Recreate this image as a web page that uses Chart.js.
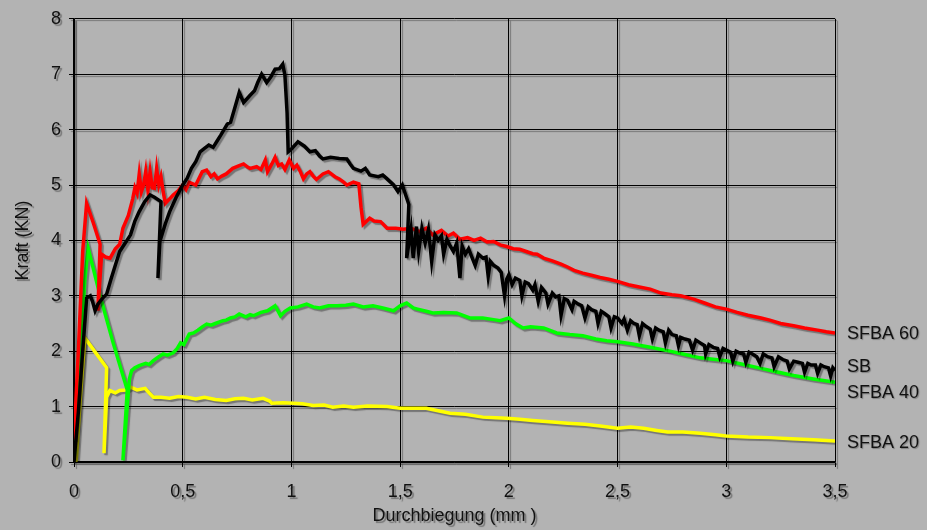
<!DOCTYPE html>
<html>
<head>
<meta charset="utf-8">
<script src="https://cdn.jsdelivr.net/npm/chart.js@4/dist/chart.umd.min.js"></script>
<style>
html, body { margin: 0; padding: 0; background: #b3b3b3; }
#wrap { width: 927px; height: 530px; }
</style>
</head>
<body>
<div id="wrap"><canvas id="chart" width="927" height="530"></canvas></div>
<script>
// Kraft (KN) over Durchbiegung (mm) as [x, y]
var sbPoints = [
    [0, 0], [0.02, 0.9], [0.04, 2.0], [0.058, 2.96], [0.075, 3.0], [0.085, 2.9], [0.097, 2.73], [0.11, 2.85],
    [0.13, 2.95], [0.15, 3.03], [0.17, 3.3], [0.19, 3.55], [0.21, 3.8], [0.235, 3.95], [0.26, 4.1], [0.28, 4.35],
    [0.30, 4.52], [0.325, 4.7], [0.35, 4.82], [0.37, 4.78], [0.40, 4.7], [0.386, 3.32], [0.395, 3.98], [0.42, 4.3],
    [0.44, 4.52], [0.47, 4.78], [0.50, 5.0], [0.52, 5.12], [0.54, 5.3], [0.56, 5.42], [0.58, 5.6], [0.60, 5.66],
    [0.62, 5.72], [0.64, 5.68], [0.656, 5.78], [0.675, 5.9], [0.69, 6.0], [0.705, 6.1], [0.72, 6.13], [0.74, 6.4],
    [0.76, 6.67], [0.78, 6.49], [0.81, 6.62], [0.83, 6.7], [0.845, 6.85], [0.863, 7.0], [0.886, 6.85],
    [0.905, 6.95], [0.925, 7.09], [0.945, 7.1], [0.96, 7.18], [0.97, 6.98], [0.98, 6.3], [0.985, 5.6],
    [1.0, 5.65], [1.03, 5.78], [1.06, 5.7], [1.085, 5.6], [1.11, 5.62], [1.13, 5.52], [1.145, 5.47], [1.18, 5.5],
    [1.22, 5.48], [1.255, 5.47], [1.27, 5.38], [1.285, 5.3], [1.32, 5.25], [1.34, 5.3], [1.36, 5.18],
    [1.40, 5.15], [1.42, 5.18], [1.44, 5.11], [1.47, 5.0], [1.49, 4.88], [1.51, 5.0], [1.54, 4.65], [1.53, 3.68],
    [1.55, 4.2], [1.56, 3.68], [1.575, 4.25], [1.585, 3.8], [1.6, 4.22], [1.615, 3.95], [1.63, 4.2], [1.645, 3.62],
    [1.66, 4.1], [1.675, 4.0], [1.69, 4.08], [1.70, 3.75], [1.715, 4.02], [1.73, 3.9], [1.745, 3.8], [1.76, 3.95],
    [1.775, 3.32], [1.785, 3.9], [1.8, 3.75], [1.815, 3.85], [1.83, 3.7], [1.845, 3.55], [1.86, 3.75], [1.88, 3.68],
    [1.895, 3.7], [1.905, 3.35], [1.915, 3.62], [1.93, 3.55], [1.95, 3.5], [1.965, 3.42], [1.98, 3.0], [1.99, 3.3],
    [2.0, 3.38], [2.015, 3.2], [2.03, 3.32], [2.05, 3.28], [2.06, 3.0], [2.075, 3.25], [2.09, 3.22], [2.11, 3.1],
    [2.12, 3.2], [2.135, 2.9], [2.15, 3.15], [2.17, 3.05], [2.18, 2.85], [2.2, 3.05], [2.215, 2.98], [2.23, 3.0],
    [2.24, 2.65], [2.255, 2.95], [2.27, 2.92], [2.29, 2.75], [2.3, 2.9], [2.32, 2.85], [2.335, 2.82], [2.35, 2.6],
    [2.365, 2.8], [2.38, 2.75], [2.4, 2.72], [2.41, 2.5], [2.425, 2.72], [2.44, 2.68], [2.46, 2.62], [2.47, 2.42],
    [2.485, 2.62], [2.5, 2.6], [2.52, 2.5], [2.53, 2.58], [2.545, 2.38], [2.56, 2.55], [2.575, 2.5], [2.59, 2.48],
    [2.6, 2.28], [2.615, 2.5], [2.63, 2.45], [2.65, 2.4], [2.66, 2.22], [2.675, 2.42], [2.69, 2.38], [2.71, 2.35],
    [2.72, 2.15], [2.735, 2.38], [2.75, 2.3], [2.77, 2.28], [2.78, 2.1], [2.79, 2.25], [2.81, 2.22], [2.83, 2.2],
    [2.845, 2.02], [2.86, 2.2], [2.88, 2.15], [2.9, 2.1], [2.905, 1.95], [2.92, 2.12], [2.94, 2.07], [2.96, 2.05],
    [2.97, 1.9], [2.985, 2.05], [3.0, 2.02], [3.02, 1.98], [3.03, 1.82], [3.045, 2.0], [3.06, 1.97], [3.08, 1.95],
    [3.09, 1.8], [3.105, 1.98], [3.12, 1.95], [3.14, 1.9], [3.155, 1.78], [3.17, 1.95], [3.19, 1.9], [3.21, 1.88],
    [3.22, 1.72], [3.24, 1.9], [3.26, 1.85], [3.28, 1.82], [3.29, 1.68], [3.31, 1.82], [3.33, 1.8], [3.35, 1.78],
    [3.36, 1.62], [3.375, 1.78], [3.39, 1.75], [3.41, 1.75], [3.42, 1.6], [3.435, 1.75], [3.45, 1.72], [3.47, 1.7],
    [3.48, 1.55], [3.49, 1.7], [3.5, 1.65]
];

var sfba60Points = [
    [0, 0.4], [0.02, 2.0], [0.04, 3.8], [0.058, 4.67], [0.09, 4.3], [0.12, 3.93], [0.11, 2.73], [0.127, 3.75],
    [0.145, 3.7], [0.166, 3.68], [0.19, 3.85], [0.21, 3.93], [0.225, 4.22], [0.25, 4.45], [0.27, 4.75], [0.28, 4.95],
    [0.29, 4.85], [0.30, 5.2], [0.31, 4.88], [0.32, 5.0], [0.33, 5.25], [0.34, 4.9], [0.35, 5.24], [0.36, 4.95],
    [0.37, 4.94], [0.38, 5.3], [0.39, 5.0], [0.40, 5.15], [0.41, 4.88], [0.42, 4.67], [0.44, 4.75], [0.456, 4.82],
    [0.48, 4.9], [0.50, 5.0], [0.515, 4.92], [0.53, 5.05], [0.56, 5.0], [0.575, 5.12], [0.59, 5.24], [0.61, 5.27],
    [0.63, 5.15], [0.645, 5.2], [0.66, 5.11], [0.68, 5.16], [0.70, 5.2], [0.73, 5.3], [0.76, 5.35], [0.78, 5.38],
    [0.80, 5.32], [0.81, 5.3], [0.84, 5.33], [0.86, 5.28], [0.88, 5.45], [0.89, 5.24], [0.91, 5.38], [0.925, 5.5],
    [0.94, 5.35], [0.955, 5.38], [0.97, 5.28], [0.99, 5.45], [1.01, 5.3], [1.025, 5.36], [1.04, 5.25],
    [1.055, 5.11], [1.07, 5.2], [1.085, 5.24], [1.1, 5.16], [1.115, 5.1], [1.145, 5.2], [1.17, 5.24], [1.2, 5.15],
    [1.22, 5.11], [1.24, 5.05], [1.255, 5.0], [1.285, 5.05], [1.31, 5.02], [1.32, 4.6], [1.33, 4.29], [1.36, 4.4],
    [1.38, 4.35], [1.41, 4.34], [1.44, 4.22], [1.48, 4.22], [1.515, 4.2], [1.55, 4.22], [1.59, 4.16], [1.62, 4.22],
    [1.65, 4.1], [1.69, 4.18], [1.72, 4.08], [1.745, 4.13], [1.775, 4.02], [1.81, 4.05], [1.84, 4.0], [1.87, 4.04],
    [1.9, 3.97], [1.93, 3.98], [1.96, 3.92], [1.99, 3.89], [2.02, 3.85], [2.05, 3.84], [2.08, 3.8], [2.11, 3.76],
    [2.13, 3.75], [2.16, 3.68], [2.2, 3.63], [2.24, 3.57], [2.27, 3.52], [2.3, 3.46], [2.34, 3.41], [2.38, 3.37],
    [2.42, 3.33], [2.46, 3.3], [2.5, 3.26], [2.55, 3.2], [2.6, 3.16], [2.65, 3.12], [2.7, 3.05], [2.75, 3.02],
    [2.79, 3.0], [2.85, 2.94], [2.9, 2.87], [2.95, 2.8], [3.0, 2.76], [3.05, 2.7], [3.1, 2.65], [3.16, 2.6],
    [3.2, 2.56], [3.25, 2.5], [3.31, 2.46], [3.36, 2.42], [3.42, 2.38], [3.46, 2.35], [3.5, 2.33]
];

var sfba40Points = [
    [0, 0.03], [0.03, 2.0], [0.05, 3.3], [0.065, 3.86], [0.12, 3.0], [0.18, 2.15], [0.245, 1.3], [0.225, 0.03],
    [0.255, 1.5], [0.265, 1.65], [0.28, 1.7], [0.30, 1.74], [0.33, 1.78], [0.345, 1.76], [0.365, 1.83],
    [0.39, 1.9], [0.41, 1.95], [0.43, 1.93], [0.456, 1.97], [0.475, 2.05], [0.49, 2.15], [0.505, 2.12],
    [0.53, 2.31], [0.55, 2.33], [0.57, 2.38], [0.59, 2.44], [0.61, 2.49], [0.63, 2.47], [0.65, 2.5], [0.685, 2.55],
    [0.70, 2.56], [0.72, 2.6], [0.74, 2.62], [0.76, 2.67], [0.79, 2.62], [0.81, 2.66], [0.825, 2.64], [0.86, 2.7],
    [0.89, 2.73], [0.925, 2.82], [0.95, 2.64], [0.97, 2.72], [0.995, 2.78], [1.03, 2.8], [1.07, 2.85], [1.1, 2.8],
    [1.13, 2.78], [1.17, 2.82], [1.21, 2.82], [1.25, 2.83], [1.285, 2.85], [1.33, 2.8], [1.375, 2.82],
    [1.42, 2.78], [1.47, 2.73], [1.5, 2.82], [1.53, 2.87], [1.56, 2.78], [1.58, 2.76], [1.62, 2.72], [1.65, 2.69],
    [1.7, 2.7], [1.76, 2.69], [1.82, 2.6], [1.88, 2.6], [1.93, 2.57], [1.96, 2.55], [2.0, 2.6], [2.03, 2.5],
    [2.065, 2.42], [2.1, 2.44], [2.16, 2.42], [2.22, 2.33], [2.28, 2.3], [2.34, 2.28], [2.4, 2.22], [2.45, 2.19],
    [2.5, 2.17], [2.57, 2.13], [2.65, 2.07], [2.73, 2.01], [2.8, 1.95], [2.88, 1.88], [2.95, 1.85], [3.0, 1.83],
    [3.08, 1.76], [3.16, 1.69], [3.24, 1.62], [3.31, 1.56], [3.4, 1.5], [3.5, 1.44]
];

var sfba20Points = [
    [0, 0], [0.01, 0.03], [0.03, 1.2], [0.05, 2.24], [0.1, 1.97], [0.15, 1.7], [0.138, 0.16], [0.15, 1.17],
    [0.165, 1.29], [0.19, 1.25], [0.21, 1.29], [0.24, 1.3], [0.26, 1.35], [0.29, 1.3], [0.327, 1.33],
    [0.345, 1.25], [0.365, 1.17], [0.4, 1.17], [0.44, 1.15], [0.48, 1.18], [0.52, 1.17], [0.56, 1.14], [0.6, 1.17],
    [0.65, 1.13], [0.70, 1.11], [0.74, 1.14], [0.78, 1.15], [0.82, 1.12], [0.87, 1.15], [0.9, 1.1], [0.91, 1.06],
    [0.96, 1.07], [1.01, 1.06], [1.05, 1.05], [1.10, 1.02], [1.15, 1.03], [1.19, 0.99], [1.24, 1.01], [1.285, 0.99],
    [1.35, 1.01], [1.44, 1.0], [1.5, 0.97], [1.56, 0.97], [1.62, 0.97], [1.68, 0.92], [1.73, 0.88], [1.8, 0.86],
    [1.88, 0.81], [1.94, 0.8], [1.99, 0.79], [2.05, 0.77], [2.11, 0.75], [2.2, 0.72], [2.27, 0.7], [2.35, 0.68],
    [2.42, 0.65], [2.5, 0.61], [2.56, 0.63], [2.62, 0.61], [2.68, 0.57], [2.73, 0.54], [2.8, 0.54], [2.88, 0.52],
    [2.95, 0.49], [3.0, 0.47], [3.1, 0.45], [3.2, 0.44], [3.3, 0.42], [3.4, 0.4], [3.5, 0.38]
];

var seriesNames = ['SB', 'SFBA 60', 'SFBA 40', 'SFBA 20'];
// value on the Kraft axis where each name sits at the right end
var nameAt = [1.72, 2.31, 1.24, 0.34];

var textFont = '"Liberation Sans", Arial, sans-serif';

toXY = (pts) => pts.map(p => ({ x: p[0], y: p[1] }));

var endNames = {
    id: 'endNames',
    afterDraw: (chart) => {
        const ctx = chart.ctx;
        const ys = chart.scales.y;
        ctx.save();
        ctx.shadowColor = 'rgba(0,0,0,0.3)';
        ctx.shadowOffsetX = 1;
        ctx.shadowOffsetY = 1;
        ctx.font = '18px ' + textFont;
        ctx.fillStyle = '#111';
        ctx.textBaseline = 'middle';
        seriesNames.forEach(function (name, i) {
            ctx.fillText(name, chart.chartArea.right + 12, ys.getPixelForValue(nameAt[i]));
        });
        ctx.restore();
    }
};

var shadow = {
    id: 'shadow',
    beforeDraw: (chart) => {
        const ctx = chart.ctx;
        ctx.save();
        ctx.shadowColor = 'rgba(0,0,0,0.35)';
        ctx.shadowOffsetX = 2;
        ctx.shadowOffsetY = 2;
        ctx.shadowBlur = 1;
    },
    afterDraw: (chart) => {
        chart.ctx.restore();
    }
};

var lineStyle = (color) => ({
    borderColor: color,
    backgroundColor: color,
    borderWidth: 3.5,
    pointRadius: 0,
    showLine: true,
    tension: 0,
    fill: false
});

new Chart(document.getElementById('chart'), {
    type: 'scatter',
    data: {
        datasets: [
            Object.assign({ label: seriesNames[0], data: toXY(sbPoints) }, lineStyle('#000000')),
            Object.assign({ label: seriesNames[1], data: toXY(sfba60Points) }, lineStyle('#ff0000')),
            Object.assign({ label: seriesNames[2], data: toXY(sfba40Points) }, lineStyle('#00ff00')),
            Object.assign({ label: seriesNames[3], data: toXY(sfba20Points) }, lineStyle('#ffff00'))
        ]
    },
    options: {
        responsive: false,
        animation: false,
        layout: { padding: { top: 12, right: 92, left: 0, bottom: 0 } },
        plugins: {
            legend: { display: false },
            tooltip: { enabled: false }
        },
        scales: {
            x: {
                type: 'linear',
                min: 0,
                max: 3.5,
                afterFit: (s) => { s.height = 68; },
                ticks: {
                    stepSize: 0.5,
                    padding: 14,
                    color: '#111',
                    font: { family: textFont, size: 18 },
                    callback: (v) => String(v).replace('.', ',')
                },
                grid: { color: '#000', lineWidth: 1, tickLength: 5 },
                border: { color: '#000', width: 1.5 },
                title: {
                    display: true,
                    text: 'Durchbiegung (mm )',
                    color: '#111',
                    font: { family: textFont, size: 18 },
                    padding: { top: 0, bottom: 3 }
                }
            },
            y: {
                min: 0,
                max: 8,
                afterFit: (s) => { s.width = 74; },
                ticks: {
                    stepSize: 1,
                    padding: 8,
                    color: '#111',
                    font: { family: textFont, size: 18 }
                },
                grid: { color: '#000', lineWidth: 1, tickLength: 5 },
                border: { color: '#000', width: 1.5 },
                title: {
                    display: true,
                    text: 'Kraft (KN)',
                    color: '#111',
                    font: { family: textFont, size: 18 },
                    padding: { top: 12, bottom: 0 }
                }
            }
        }
    },
    plugins: [endNames, shadow]
});
</script>
</body>
</html>
